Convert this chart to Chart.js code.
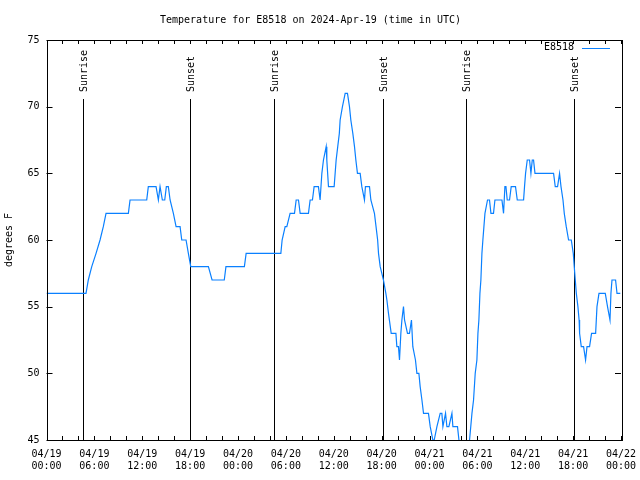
<!DOCTYPE html>
<html>
<head>
<meta charset="utf-8">
<script src="https://cdn.jsdelivr.net/npm/chart.js@4/dist/chart.umd.min.js"></script>
<style>
  html, body { margin: 0; padding: 0; background: #fff; }
  canvas { display: block; }
</style>
</head>
<body>
<canvas id="chart" width="640" height="480"></canvas>
<script>
// hours since 04/19 00:00 UTC, temperature in degrees F
const hours = [
  0.00, 4.95, 5.24, 5.67, 6.21, 6.71, 7.12, 7.46, 10.26, 10.47, 12.56, 12.76, 13.73, 14.02, 14.23, 14.52,
  14.82, 15.02, 15.27, 15.49, 15.90, 16.24, 16.74, 16.95, 17.49, 17.78, 18.08, 20.29, 20.75, 22.28, 22.49,
  24.80, 25.02, 29.37, 29.53, 29.91, 30.12, 30.53, 31.08, 31.29, 31.58, 31.79, 32.83, 33.04, 33.33, 33.54,
  34.08, 34.29, 34.51, 34.71, 35.05, 35.13, 35.34, 36.05, 36.30, 36.50, 36.70, 36.80, 37.09, 37.43, 37.72,
  37.97, 38.14, 38.39, 38.60, 38.77, 38.97, 39.31, 39.52, 39.85, 39.97, 40.48, 40.65, 41.10, 41.30, 41.50,
  41.61, 41.82, 42.23, 42.53, 42.66, 42.86, 43.20, 43.79, 43.91, 44.11, 44.24, 44.41, 44.54, 44.74, 44.87,
  45.24, 45.49, 45.74, 45.91, 46.24, 46.42, 46.67, 46.83, 47.05, 47.25, 47.87, 48.09, 48.42, 48.59, 48.93,
  49.34, 49.55, 49.68, 50.01, 50.18, 50.43, 50.81, 50.93, 51.51, 51.69, 51.94, 52.48, 52.85, 53.02, 53.32,
  53.52, 53.73, 53.94, 54.07, 54.19, 54.32, 54.44, 54.57, 54.69, 54.82, 54.95, 55.27, 55.52, 55.70, 56.02,
  56.20, 57.08, 57.28, 57.45, 57.58, 57.74, 58.03, 58.24, 58.78, 59.00, 59.79, 59.91, 60.04, 60.25, 60.54,
  60.71, 60.88, 61.04, 61.22, 63.55, 63.76, 64.05, 64.30, 64.48, 64.73, 64.89, 65.14, 65.43, 65.77, 66.02,
  66.14, 66.27, 66.40, 66.60, 66.75, 66.81, 67.02, 67.31, 67.56, 67.74, 68.06, 68.31, 68.82, 68.99, 69.24,
  70.03, 70.31, 70.62, 70.74, 70.87, 71.32, 71.50, 71.91
];
const temps = [
  56, 56, 57, 58, 59, 60, 61, 62, 62, 63, 63, 64, 64, 63, 64, 63,
  63, 64, 64, 63, 62, 61, 61, 60, 60, 59, 58, 58, 57, 57, 58,
  58, 59, 59, 60, 61, 61, 62, 62, 63, 63, 62, 62, 63, 63, 64,
  64, 63, 65, 66, 67, 66, 64, 64, 66, 67, 68, 69, 70, 71, 71,
  70, 69, 68, 67, 66, 65, 65, 64, 63, 64, 64, 63, 62, 61, 60,
  59, 58, 57, 56, 55.5, 54.5, 53, 53, 52, 52, 51, 53, 54, 55, 54,
  53, 53, 54, 52, 51, 50, 50, 49, 48, 47, 47, 46, 45, 45, 46,
  47, 47, 46, 47, 46, 46, 47, 46, 46, 45, 44, 44, 44, 45, 47,
  48, 50, 51, 53, 54, 56, 57, 59, 60, 61, 62, 63, 63, 62, 62,
  63, 63, 62, 64, 64, 63, 63, 64, 64, 63, 63, 64, 65, 66, 66,
  65, 66, 66, 65, 65, 64, 64, 65, 64, 63, 62, 61, 60, 60, 59,
  58, 57, 56, 55, 54, 53, 52, 52, 51, 52, 52, 53, 53, 55, 56,
  56, 55, 54, 56, 57, 57, 56, 56
];

const sunHours = [4.61, 18.03, 28.56, 42.11, 52.60, 66.14];
const sunLabels = ['Sunrise', 'Sunset', 'Sunrise', 'Sunset', 'Sunrise', 'Sunset'];

const xTickDays = ['04/19', '04/19', '04/19', '04/19', '04/20', '04/20', '04/20', '04/20', '04/21', '04/21', '04/21', '04/21', '04/22'];
const xTickTimes = ['00:00', '06:00', '12:00', '18:00', '00:00', '06:00', '12:00', '18:00', '00:00', '06:00', '12:00', '18:00', '00:00'];

const seriesName = 'E8518';
const MONO = "'DejaVu Sans Mono', 'Liberation Mono', monospace";
const lineColor = '#0a80ff';

// frame, inward ticks, sunrise/sunset markers and key
const overlay = {
  id: 'overlay',
  beforeDatasetsDraw(chart) {
    const { ctx, chartArea: a, scales: { x } } = chart;
    ctx.save();
    ctx.strokeStyle = '#000';
    ctx.lineWidth = 1;
    ctx.fillStyle = '#000';
    ctx.font = '10px ' + MONO;
    sunHours.forEach((h, i) => {
      const px = Math.round(x.getPixelForValue(h)) + 0.5;
      ctx.beginPath();
      ctx.moveTo(px, 99);
      ctx.lineTo(px, a.bottom);
      ctx.stroke();
      ctx.save();
      ctx.translate(px + 1, 92);
      ctx.rotate(-Math.PI / 2);
      ctx.textAlign = 'left';
      ctx.textBaseline = 'middle';
      ctx.fillText(sunLabels[i], 0, 0);
      ctx.restore();
    });
    ctx.restore();
  },
  afterDatasetsDraw(chart) {
    const { ctx, chartArea: a, scales: { x, y } } = chart;
    ctx.save();
    ctx.strokeStyle = '#000';
    ctx.lineWidth = 1;
    ctx.beginPath();
    for (let h = 0; h <= 72; h += 2) {
      const px = Math.round(x.getPixelForValue(h)) + 0.5;
      ctx.moveTo(px, a.bottom); ctx.lineTo(px, a.bottom - 4);
      ctx.moveTo(px, a.top); ctx.lineTo(px, a.top + 4);
    }
    for (let t = 45; t <= 75; t += 5) {
      const py = Math.round(y.getPixelForValue(t)) + 0.5;
      ctx.moveTo(a.left, py); ctx.lineTo(a.left + 6, py);
      ctx.moveTo(a.right, py); ctx.lineTo(a.right - 6, py);
    }
    ctx.stroke();
    ctx.strokeRect(Math.round(a.left) + 0.5, Math.round(a.top) + 0.5,
      Math.round(a.right - a.left), Math.round(a.bottom - a.top));

    // key
    ctx.fillStyle = '#000';
    ctx.font = '10px ' + MONO;
    ctx.textAlign = 'right';
    ctx.textBaseline = 'middle';
    ctx.fillText(seriesName, 574, 47);
    ctx.strokeStyle = lineColor;
    ctx.beginPath();
    ctx.moveTo(582, 48.5);
    ctx.lineTo(610, 48.5);
    ctx.stroke();
    ctx.restore();
  }
};

const chart = new Chart(document.getElementById('chart').getContext('2d'), {
  type: 'line',
  data: {
    datasets: [{
      label: seriesName,
      data: hours.map((h, i) => ({ x: h, y: temps[i] })),
      borderColor: lineColor,
      borderWidth: 1.2,
      pointRadius: 0,
      tension: 0,
      fill: false
    }]
  },
  options: {
    responsive: false,
    animation: false,
    layout: { padding: { left: 0, right: 19, top: 0, bottom: 0 } },
    plugins: {
      legend: { display: false },
      tooltip: { enabled: false },
      title: {
        display: true,
        text: 'Temperature for E8518 on 2024-Apr-19 (time in UTC)',
        color: '#000',
        font: { family: MONO, size: 10, weight: 'normal' },
        padding: { top: 14, bottom: 14 }
      }
    },
    scales: {
      x: {
        type: 'linear',
        min: 0,
        max: 72,
        grid: { display: false, drawTicks: false },
        border: { display: false },
        ticks: {
          stepSize: 6,
          autoSkip: false,
          maxRotation: 0,
          color: '#000',
          padding: 8,
          font: { family: MONO, size: 10 },
          callback: (v) => {
            const i = Math.round(v / 6);
            return [xTickDays[i], xTickTimes[i]];
          }
        },
        afterFit: (s) => { s.height = 40; s.paddingLeft = 0; s.paddingRight = 0; }
      },
      y: {
        min: 45,
        max: 75,
        grid: { display: false, drawTicks: false },
        border: { display: false },
        ticks: {
          stepSize: 5,
          color: '#000',
          padding: 7,
          font: { family: MONO, size: 10 }
        },
        title: {
          display: true,
          text: 'degrees F',
          color: '#000',
          font: { family: MONO, size: 10 },
          padding: { top: 3, bottom: 0 }
        },
        afterFit: (s) => { s.width = 46.5; s.paddingTop = 0; s.paddingBottom = 0; }
      }
    }
  },
  plugins: [overlay]
});
</script>
</body>
</html>
